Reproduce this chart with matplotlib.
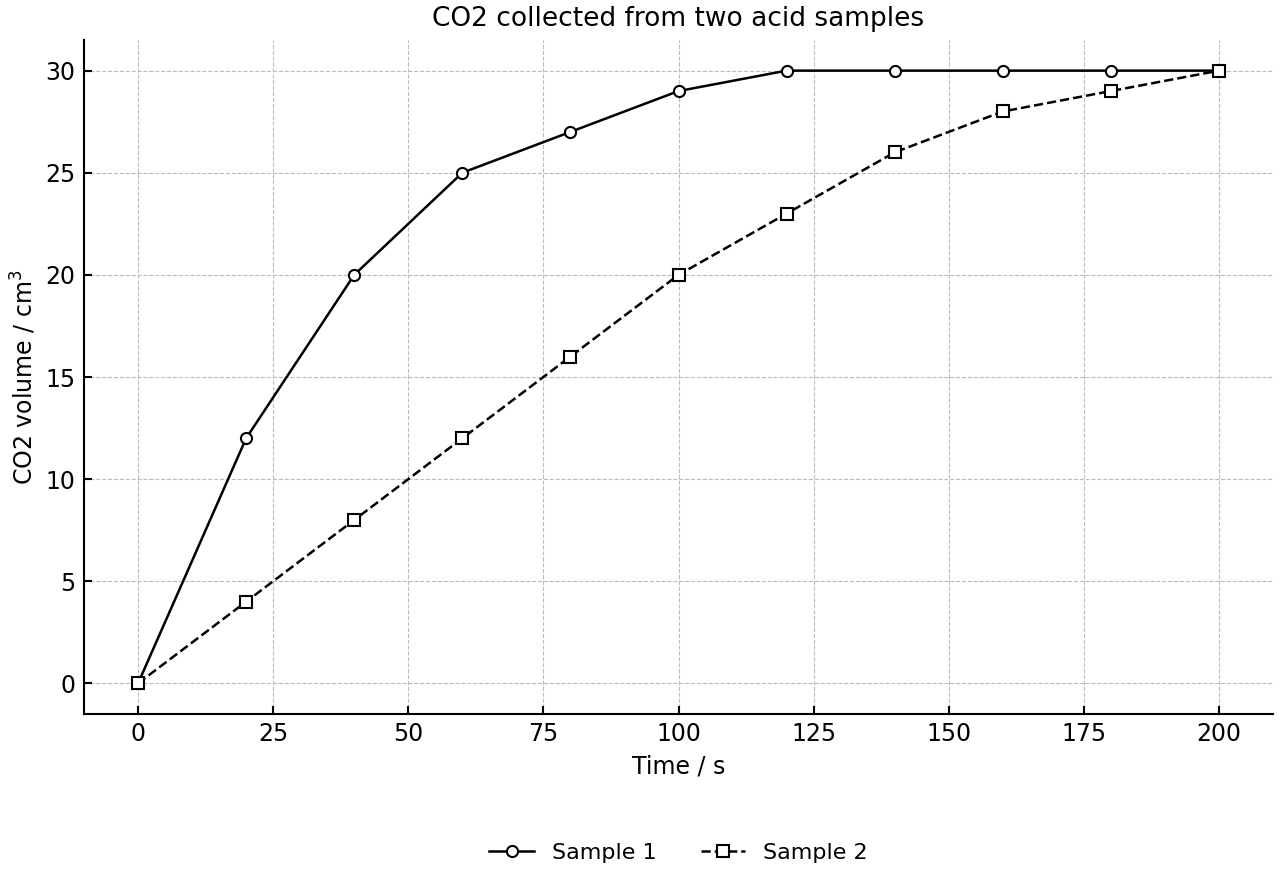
import matplotlib.pyplot as plt

time_s = [0, 20, 40, 60, 80, 100, 120, 140, 160, 180, 200]
sample_1 = [0, 12, 20, 25, 27, 29, 30, 30, 30, 30, 30]
sample_2 = [0, 4, 8, 12, 16, 20, 23, 26, 28, 29, 30]

plt.rcParams['font.size'] = 17

fig = plt.figure(figsize=(12.8, 8.8), dpi=100)
ax = fig.add_axes([84 / 1280, 1 - 714 / 880, (1273 - 84) / 1280, (714 - 40) / 880])

ax.plot(time_s, sample_1, color='black', linestyle='-', marker='o', markersize=8,
        markerfacecolor='white', markeredgewidth=1.5, linewidth=1.8, label='Sample 1')
ax.plot(time_s, sample_2, color='black', linestyle='--', marker='s', markersize=8,
        markerfacecolor='white', markeredgewidth=1.5, linewidth=1.8, label='Sample 2')

ax.set_title('CO2 collected from two acid samples', fontsize=19, pad=10)
ax.set_xlabel('Time / s', labelpad=6)
ax.set_ylabel('CO2 volume / cm$^3$', labelpad=5)
ax.set_xlim(-10, 210)
ax.set_ylim(-1.5, 31.5)
ax.set_xticks(range(0, 201, 25))
ax.set_yticks(range(0, 31, 5))
ax.grid(True, linestyle='--', color='#bbbbbb', linewidth=0.8)
ax.tick_params(direction='in', length=6, width=1.5, pad=6)
for s in ['top', 'right']:
    ax.spines[s].set_visible(False)
for s in ['left', 'bottom']:
    ax.spines[s].set_linewidth(1.5)

fig.legend(loc='center', bbox_to_anchor=(0.53, 1 - 853 / 880), ncol=2, frameon=False,
           fontsize=16, columnspacing=2.0)

fig.savefig('out.png')
